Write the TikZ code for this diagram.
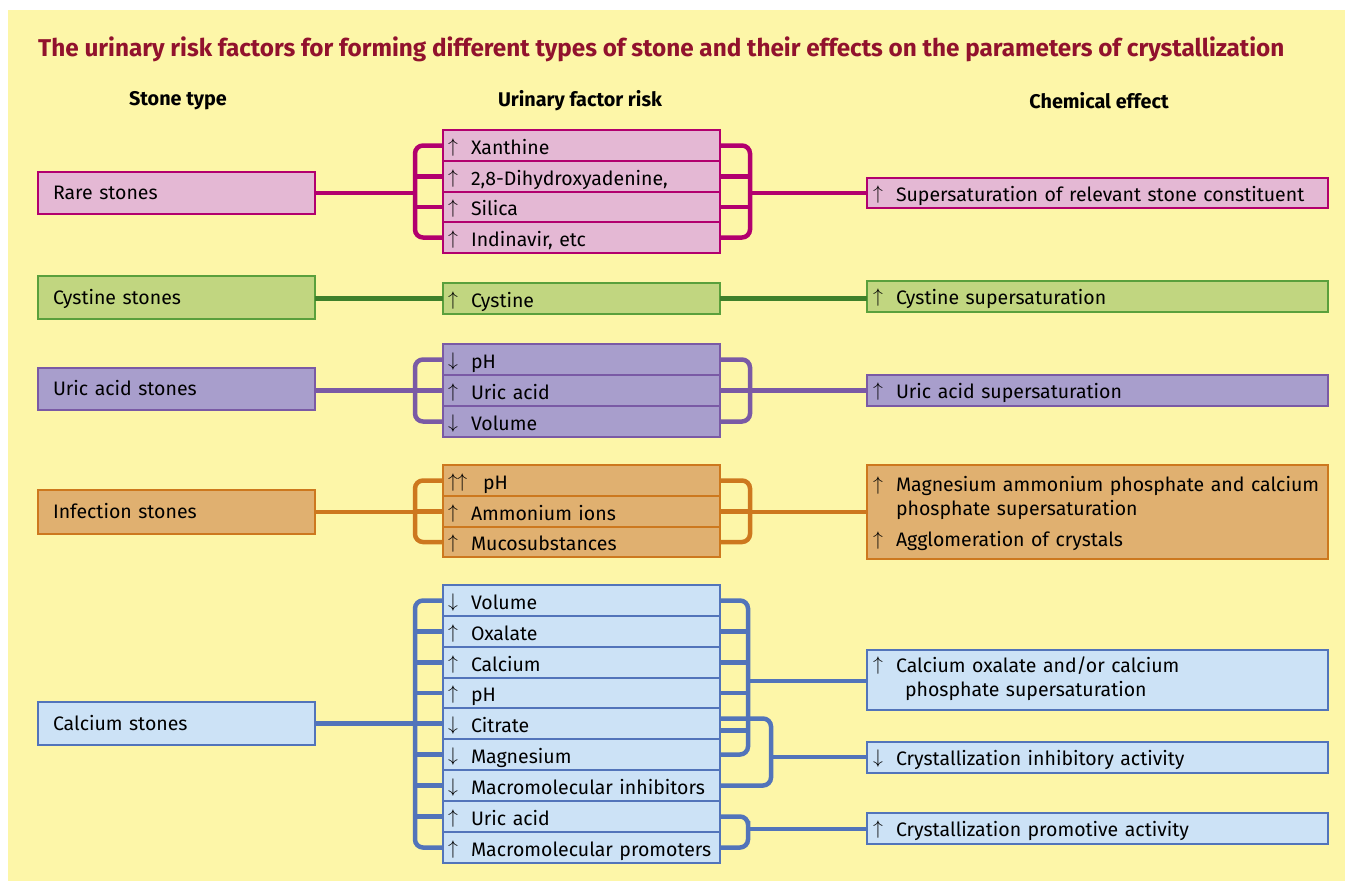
\documentclass[tikz,border=0pt]{standalone}
\usepackage{fontspec}
\setmainfont{Fira Sans}
\definecolor{bgY}{RGB}{253,246,168}
\definecolor{titleC}{RGB}{145,18,45}
\definecolor{rareF}{RGB}{228,184,212}\definecolor{rareL}{RGB}{178,0,110}
\definecolor{cysF}{RGB}{193,214,128}\definecolor{cysL}{RGB}{62,128,42}\definecolor{cysB}{RGB}{90,160,60}
\definecolor{uriF}{RGB}{168,158,204}\definecolor{uriL}{RGB}{122,90,165}
\definecolor{infF}{RGB}{224,176,112}\definecolor{infL}{RGB}{205,120,30}
\definecolor{calF}{RGB}{204,226,246}\definecolor{calL}{RGB}{82,116,186}
\newcommand\arr[1]{\raisebox{1.8pt}{\resizebox*{!}{17.5pt}{$#1$}}}
\newcommand\upA{\makebox[23pt][l]{\arr{\uparrow}}}
\newcommand\dnA{\makebox[23pt][l]{\arr{\downarrow}}}
\newcommand\upupA{\makebox[35pt][l]{\arr{\uparrow}\hspace{-0.5pt}\arr{\uparrow}}}
\begin{document}
\begin{tikzpicture}[x=1pt,y=-1pt,
  font=\fontsize{19.5}{22}\selectfont,
  bx/.style={draw, rectangle, line width=1.3pt, anchor=north west, inner ysep=0pt, outer sep=0pt, align=left},
  lbox/.style={bx, minimum height=#1, text width=247pt, inner xsep=15pt, text height=15pt, text depth=2pt},
  mbox/.style={bx, minimum height=#1, text width=267pt, inner xsep=5pt, text height=18pt, text depth=1pt},
  rbox/.style={bx, minimum height=#1, text width=449pt, inner xsep=6pt, text height=17pt, text depth=1pt},
  tbox/.style={bx, minimum height=#1, text width=449pt, inner xsep=6pt},
  conn/.style={line width=4.5pt, rounded corners=8pt},
  hdr/.style={font=\fontsize{19.8}{22}\selectfont\bfseries}]
\useasboundingbox (0,0) rectangle (1345,881);
\fill[bgY] (8,10) rectangle (1345,881);
\node[font=\fontsize{24.3}{28}\selectfont\bfseries, text=titleC, anchor=west, inner xsep=0pt] (title) at (38,49) {The urinary risk factors for forming different types of stone and their effects on the parameters of crystallization};
\node[hdr] (h1) at (178,101) {Stone type};
\node[hdr] (h2) at (580,101) {Urinary factor risk};
\node[hdr] (h3) at (1099,101) {Chemical effect};

% ---------- Rare stones
\begin{scope}[every node/.append style={fill=rareF, draw=rareL}]
\node[lbox=42pt] (rare) at (38,172) {Rare stones};
\node[mbox=31pt] (ra1) at (443,130) {\upA Xanthine};
\node[mbox=31pt] (ra2) at (443,161) {\upA 2,8-Dihydroxyadenine,};
\node[mbox=30pt] (ra3) at (443,192) {\upA Silica};
\node[mbox=31pt] (ra4) at (443,222) {\upA Indinavir, etc};
\node[rbox=30pt] (rare-e) at (867,178) {\upA Supersaturation of relevant stone constituent};
\end{scope}
\begin{scope}[conn, draw=rareL]
\coordinate (rl) at (415,193);
\coordinate (rr) at (750,193);
\draw (ra1.west) -| (rl) |- (ra4.west);
\draw (ra2.west) -- (ra2.west -| rl);
\draw (ra3.west) -- (ra3.west -| rl);
\draw (rare.east) -- (rare.east -| rl);
\draw (ra1.east) -| (rr) |- (ra4.east);
\draw (ra2.east) -- (ra2.east -| rr);
\draw (ra3.east) -- (ra3.east -| rr);
\draw (rare-e.west -| rr) -- (rare-e.west);
\end{scope}

% ---------- Cystine
\begin{scope}[every node/.append style={fill=cysF, draw=cysB}]
\node[lbox=43pt] (cys) at (38,276) {Cystine stones};
\node[mbox=31pt] (cy1) at (443,283) {\upA Cystine};
\node[rbox=31pt] (cys-e) at (867,281) {\upA Cystine supersaturation};
\end{scope}
\draw[conn, draw=cysL] (cys.east |- cy1.west) -- (cy1.west);
\draw[conn, draw=cysL] (cy1.east) -- (cy1.east -| cys-e.west);

% ---------- Uric acid
\begin{scope}[every node/.append style={fill=uriF, draw=uriL}]
\node[lbox=42pt] (uri) at (38,368) {Uric acid stones};
\node[mbox=31pt] (ur1) at (443,344) {\dnA pH};
\node[mbox=31pt] (ur2) at (443,375) {\upA Uric acid};
\node[mbox=31pt] (ur3) at (443,406) {\dnA Volume};
\node[rbox=31pt] (uri-e) at (867,375) {\upA Uric acid supersaturation};
\end{scope}
\begin{scope}[conn, draw=uriL]
\coordinate (ul) at (415,391);
\coordinate (ur) at (750,391);
\draw (ur1.west) -| (ul) |- (ur3.west);
\draw (ur2.west) -- (uri.east |- ur2.west);
\draw (ur1.east) -| (ur) |- (ur3.east);
\draw (ur2.east) -- (uri-e.west |- ur2.east);
\end{scope}

% ---------- Infection
\begin{scope}[every node/.append style={fill=infF, draw=infL}]
\node[lbox=44pt] (inf) at (38,490) {Infection stones};
\node[mbox=31pt] (in1) at (443,465) {\upupA pH};
\node[mbox=31pt] (in2) at (443,496) {\upA Ammonium ions};
\node[mbox=30pt] (in3) at (443,527) {\upA Mucosubstances};
\node[tbox=94pt] (inf-e) at (867,465) {%
  \begin{tabular}{@{}l@{}l@{}}
  \upA & \rule{0pt}{21.4pt}Magnesium ammonium phosphate and calcium\\[2pt]
   & phosphate supersaturation\\[9pt]
  \upA & Agglomeration of crystals
  \end{tabular}};
\end{scope}
\begin{scope}[conn, draw=infL]
\coordinate (il) at (415,512);
\coordinate (ir) at (750,512);
\draw (in1.west) -| (il) |- (in3.west);
\draw (in2.west) -- (in2.west -| il);
\draw (inf.east) -- (inf.east -| il);
\draw (in1.east) -| (ir) |- (in3.east);
\draw (in2.east) -- (in2.east -| ir);
\draw (ir) -- (ir -| inf-e.west);
\end{scope}

% ---------- Calcium
\begin{scope}[every node/.append style={fill=calF, draw=calL}]
\node[lbox=43pt] (cal) at (38,702) {Calcium stones};
\node[mbox=31pt] (ca1) at (443,585) {\dnA Volume};
\node[mbox=31pt] (ca2) at (443,616) {\upA Oxalate};
\node[mbox=31pt] (ca3) at (443,647) {\upA Calcium};
\node[mbox=30pt] (ca4) at (443,678) {\upA pH};
\node[mbox=31pt] (ca5) at (443,708) {\dnA Citrate};
\node[mbox=31pt] (ca6) at (443,739) {\dnA Magnesium};
\node[mbox=31pt] (ca7) at (443,770) {\dnA Macromolecular inhibitors};
\node[mbox=31pt] (ca8) at (443,801) {\upA Uric acid};
\node[mbox=31pt] (ca9) at (443,832) {\upA Macromolecular promoters};
\node[tbox=60pt] (cal-e1) at (867,650) {%
  \begin{tabular}{@{}l@{}l@{}}
  \upA & Calcium oxalate and/or calcium\\[2pt]
   & \hspace{9pt}phosphate supersaturation
  \end{tabular}};
\node[rbox=31pt] (cal-e2) at (867,742) {\dnA Crystallization inhibitory activity};
\node[rbox=31pt] (cal-e3) at (867,813) {\upA Crystallization promotive activity};
\end{scope}
\begin{scope}[conn, draw=calL]
\coordinate (cl) at (415,725);
\draw (ca1.west) -| (cl) |- (ca9.west);
\foreach \r in {ca2,ca3,ca4,ca5,ca6,ca7,ca8} \draw (\r.west) -- (\r.west -| cl);
\draw (cal.east) -- (cal.east -| cl);
% bracket 1
\coordinate (c1) at (748,681);
\draw (ca1.east) -| (c1) |- (ca6.east);
\foreach \r in {ca2,ca3,ca4} \draw (\r.east) -- (\r.east -| c1);
\draw ([yshift=-7pt]ca5.east) -- ([yshift=-7pt]ca5.east -| c1);
\draw (c1) -- (c1 -| cal-e1.west);
% bracket 2
\coordinate (c2) at (771,757);
\draw ([yshift=5pt]ca5.east) -| (c2) |- (ca7.east);
\draw (c2) -- (c2 -| cal-e2.west);
% bracket 3
\coordinate (c3) at (748,829);
\draw (ca8.east) -| (c3) |- (ca9.east);
\draw (c3) -- (c3 -| cal-e3.west);
\end{scope}
\end{tikzpicture}
\end{document}
